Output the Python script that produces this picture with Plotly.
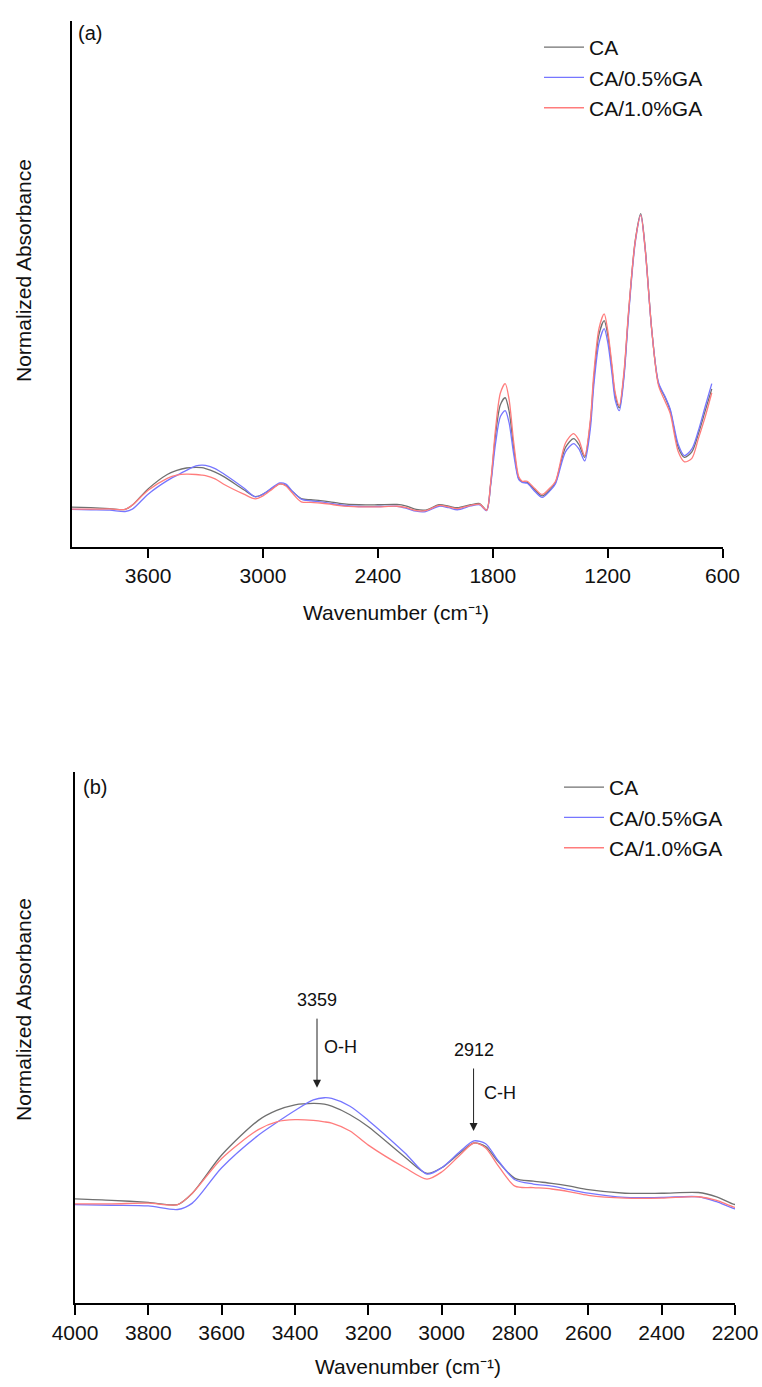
import plotly.graph_objects as go

W, H = 762, 1387

# ---------------- data ----------------
wavenumber = [4000, 3900, 3800, 3720, 3680, 3600, 3500, 3450, 3400, 3350, 3320, 3300,
              3250, 3200, 3100, 3040, 3000, 2950, 2912, 2880, 2850, 2800, 2750, 2700,
              2650, 2600, 2500, 2400, 2300, 2250, 2200, 2150, 2080, 2030, 1985, 1915,
              1868, 1832, 1811, 1785, 1760, 1735, 1715, 1690, 1664, 1646, 1620, 1580,
              1542, 1500, 1472, 1420, 1378, 1350, 1320, 1290, 1273, 1245, 1218, 1200,
              1178, 1160, 1139, 1115, 1091, 1056, 1027, 1004, 969, 934, 900, 873,
              831, 799, 760, 726, 690, 656]

ca = [0.002, 0.000, -0.003, -0.006, 0.010, 0.064, 0.113, 0.127, 0.135, 0.137, 0.136, 0.133,
      0.121, 0.104, 0.061, 0.038, 0.046, 0.067, 0.081, 0.076, 0.057, 0.031, 0.027, 0.024,
      0.020, 0.015, 0.010, 0.010, 0.011, 0.005, -0.006, -0.008, 0.010, 0.005, 0.000, 0.010,
      0.014, -0.008, 0.080, 0.250, 0.350, 0.374, 0.330, 0.200, 0.100, 0.088, 0.086, 0.060,
      0.040, 0.062, 0.086, 0.205, 0.235, 0.215, 0.171, 0.290, 0.430, 0.590, 0.636, 0.590,
      0.477, 0.380, 0.340, 0.450, 0.659, 0.908, 1.000, 0.885, 0.602, 0.421, 0.375, 0.330,
      0.205, 0.171, 0.190, 0.251, 0.330, 0.404]

ca_05ga = [-0.006, -0.007, -0.008, -0.013, -0.004, 0.046, 0.092, 0.110, 0.127, 0.142, 0.145, 0.144,
           0.133, 0.113, 0.067, 0.037, 0.046, 0.069, 0.084, 0.080, 0.059, 0.029, 0.023, 0.020,
           0.015, 0.010, 0.004, 0.004, 0.005, -0.002, -0.012, -0.013, 0.005, 0.000, -0.007, 0.006,
           0.010, -0.010, 0.075, 0.220, 0.310, 0.330, 0.290, 0.180, 0.095, 0.086, 0.083, 0.055,
           0.035, 0.058, 0.082, 0.190, 0.218, 0.200, 0.159, 0.270, 0.410, 0.560, 0.609, 0.565,
           0.460, 0.365, 0.330, 0.440, 0.650, 0.900, 0.995, 0.880, 0.600, 0.425, 0.378, 0.335,
           0.215, 0.177, 0.200, 0.262, 0.345, 0.422]

ca_10ga = [-0.005, -0.005, -0.004, -0.006, 0.010, 0.059, 0.100, 0.111, 0.114, 0.113, 0.111, 0.109,
           0.098, 0.078, 0.046, 0.030, 0.040, 0.064, 0.081, 0.074, 0.052, 0.020, 0.018, 0.016,
           0.012, 0.007, 0.003, 0.003, 0.005, 0.000, -0.010, -0.010, 0.008, 0.003, -0.003, 0.008,
           0.012, -0.009, 0.085, 0.270, 0.390, 0.422, 0.370, 0.220, 0.105, 0.090, 0.090, 0.065,
           0.045, 0.068, 0.090, 0.220, 0.252, 0.230, 0.177, 0.300, 0.450, 0.610, 0.659, 0.605,
           0.490, 0.390, 0.347, 0.460, 0.665, 0.905, 0.995, 0.880, 0.600, 0.415, 0.362, 0.320,
           0.190, 0.156, 0.168, 0.235, 0.310, 0.391]

series_names = ["CA", "CA/0.5%GA", "CA/1.0%GA"]
series_values = [ca, ca_05ga, ca_10ga]

top_ticks = [3600, 3000, 2400, 1800, 1200, 600]
bottom_ticks = [4000, 3800, 3600, 3400, 3200, 3000, 2800, 2600, 2400, 2200]

peak_labels = ["3359", "2912"]
bond_labels = ["O-H", "C-H"]
peak_arrow_x = [3340, 2913]

x_title = "Wavenumber (cm\u207b\u00b9)"
y_title = "Normalized Absorbance"

# ---------------- styling ----------------
colors = ["#707070", "#7676ff", "#ff7c7c"]
FONT = "Liberation Sans, Arial, Helvetica, sans-serif"


def fx(px):
    return px / W


def fy(py):
    return 1 - py / H


fig = go.Figure()
for name, vals, col in zip(series_names, series_values, colors):
    fig.add_trace(go.Scatter(x=wavenumber, y=vals, name=name, mode="lines",
                             line=dict(color=col, width=1.3, shape="spline", smoothing=0.8),
                             xaxis="x", yaxis="y", legend="legend"))
for name, vals, col in zip(series_names, series_values, colors):
    fig.add_trace(go.Scatter(x=wavenumber, y=vals, name=name, mode="lines",
                             line=dict(color=col, width=1.3, shape="spline", smoothing=0.8),
                             xaxis="x2", yaxis="y2", legend="legend2"))

axis_common = dict(showline=True, linecolor="black", linewidth=1.6, showgrid=False,
                   zeroline=False, mirror=False, automargin=False)

top_y_range = [(507.7 - 547) / 294, (507.7 - 21) / 294]
bot_y_range = [(1200.3 - 1303) / 707.3, (1200.3 - 772) / 707.3]

txt_font = dict(size=21, family=FONT, color="#111")
annotations = []
annotations.append(dict(text=y_title, x=fx(23), y=fy(271), xref="paper", yref="paper",
                        textangle=-90, showarrow=False, font=txt_font,
                        xanchor="center", yanchor="middle"))
annotations.append(dict(text=y_title, x=fx(23), y=fy(1010), xref="paper", yref="paper",
                        textangle=-90, showarrow=False, font=txt_font,
                        xanchor="center", yanchor="middle"))
annotations.append(dict(text=x_title, x=fx(396), y=fy(613), xref="paper", yref="paper",
                        showarrow=False, font=txt_font, xanchor="center", yanchor="middle"))
annotations.append(dict(text=x_title, x=fx(408), y=fy(1366), xref="paper", yref="paper",
                        showarrow=False, font=txt_font, xanchor="center", yanchor="middle"))
annotations.append(dict(text="(a)", x=fx(76), y=fy(33), xref="paper", yref="paper", showarrow=False,
                        font=dict(size=20, family=FONT, color="#111"), xanchor="left", yanchor="middle"))
annotations.append(dict(text="(b)", x=fx(81), y=fy(787), xref="paper", yref="paper", showarrow=False,
                        font=dict(size=20, family=FONT, color="#111"), xanchor="left", yanchor="middle"))

# peak arrows in panel (b): the peak label sits at the arrow's tail
arrow_tip = [0.159, 0.098]
label_y = [0.283, 0.2125]
bond_y = [0.2167, 0.152]
bond_dx = [-14, -24]
for lab, bond, xw, tip, ly, by, bdx in zip(peak_labels, bond_labels, peak_arrow_x, arrow_tip,
                                           label_y, bond_y, bond_dx):
    annotations.append(dict(x=xw, y=tip, ax=xw, ay=ly, xref="x2", yref="y2", axref="x2", ayref="y2",
                            text=lab, showarrow=True, arrowhead=2, arrowsize=1.6, arrowwidth=1,
                            arrowcolor="#222", standoff=0, borderpad=8,
                            font=dict(size=18, family=FONT, color="#111")))
    annotations.append(dict(x=xw + bdx, y=by, xref="x2", yref="y2", text=bond, showarrow=False,
                            font=dict(size=18, family=FONT, color="#111"), xanchor="left", yanchor="middle"))

fig.update_layout(
    width=W, height=H,
    margin=dict(l=0, r=0, t=0, b=0, autoexpand=False),
    paper_bgcolor="white", plot_bgcolor="white",
    font=dict(family=FONT, color="#111"),
    xaxis=dict(domain=[fx(71.5), fx(722.5)], range=[4000, 600], anchor="y",
               tickmode="array", tickvals=top_ticks, ticks="outside", ticklen=9, tickwidth=1.6,
               tickcolor="black", tickfont=txt_font, **axis_common),
    yaxis=dict(domain=[fy(547), fy(21)], range=top_y_range, anchor="x",
               showticklabels=False, ticks="", **axis_common),
    xaxis2=dict(domain=[fx(75), fx(735)], range=[4000, 2200], anchor="y2",
                tickmode="array", tickvals=bottom_ticks, ticks="outside", ticklen=10, tickwidth=1.6,
                tickcolor="black", tickfont=txt_font, **axis_common),
    yaxis2=dict(domain=[fy(1303), fy(772)], range=bot_y_range, anchor="x2",
                showticklabels=False, ticks="", **axis_common),
    legend=dict(x=fx(539), y=fy(27), xanchor="left", yanchor="top", bgcolor="rgba(0,0,0,0)",
                font=txt_font, tracegroupgap=0, itemwidth=40),
    legend2=dict(x=fx(559), y=fy(767), xanchor="left", yanchor="top", bgcolor="rgba(0,0,0,0)",
                 font=txt_font, tracegroupgap=0, itemwidth=40),
    annotations=annotations,
    showlegend=True,
)

fig.write_html("out.html")
